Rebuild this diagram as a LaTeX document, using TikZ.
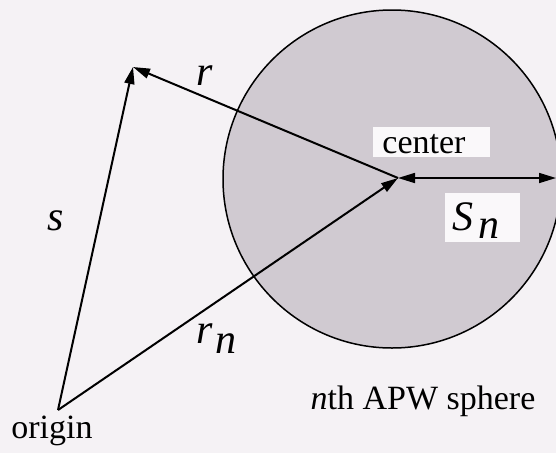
\documentclass[tikz,border=0pt]{standalone}
\usepackage{fontspec}
\setmainfont{Liberation Serif}
\newfontfamily\lblfont{Liberation Serif Italic}
\usetikzlibrary{arrows.meta}
\definecolor{bgc}{RGB}{245,242,245}
\definecolor{spherefill}{RGB}{208,202,209}
\definecolor{boxc}{RGB}{250,248,250}
\tikzset{
  vec/.style={line width=2pt, -{Triangle[length=17pt,width=10pt]}},
  dvec/.style={line width=1.6pt, {Triangle[length=17pt,width=10pt]}-{Triangle[length=17pt,width=10pt]}},
  txt/.style={font=\fontsize{34}{40}\selectfont, inner sep=0pt},
  lbl/.style={font=\fontsize{42}{46}\selectfont\lblfont, inner sep=0pt},
  whitebox/.style={fill=boxc, inner sep=0pt}
}
\begin{document}
\begin{tikzpicture}[x=1pt,y=-1pt]
\useasboundingbox (0,0) rectangle (556,453);
\fill[bgc] (0,0) rectangle (556,453);
% sphere
\begin{scope}
\clip (0,0) rectangle (556,453);
\draw[line width=1.5pt, fill=spherefill] (392,179) circle[radius=169];
\end{scope}
% points
\coordinate (O) at (58,410);
\coordinate (P) at (133,67);
\coordinate (C) at (398,178);
\coordinate (E) at (556,178);
% label boxes
\node[whitebox, minimum width=117pt, minimum height=30pt] (cbox) at (431,142) {};
\node[txt, anchor=base] (ctr) at (424,153) {center};
\node[whitebox, minimum width=75pt, minimum height=49pt] (sbox) at (482,217) {};
\node[lbl, anchor=base west] (Sn) at (452,230) {S\hspace{5pt}\raisebox{-8pt}{n}};
% vectors
\draw[vec] (O) -- (P);
\draw[vec] (C) -- (P);
\draw[vec] (O) -- (C);
\draw[dvec] (C) -- (E);
% labels
\node[lbl, anchor=base] (rl) at (205,85) {r};
\node[lbl, anchor=base] (sl) at (56,230) {s};
\node[lbl, anchor=base west] (rnl) at (196,343) {r\hspace{3pt}\raisebox{-10pt}{n}};
\node[txt, anchor=base] (orig) at (52,438) {origin};
\node[txt, anchor=base] (apw) at (423,409) {\textit{n}th APW sphere};
\end{tikzpicture}
\end{document}
